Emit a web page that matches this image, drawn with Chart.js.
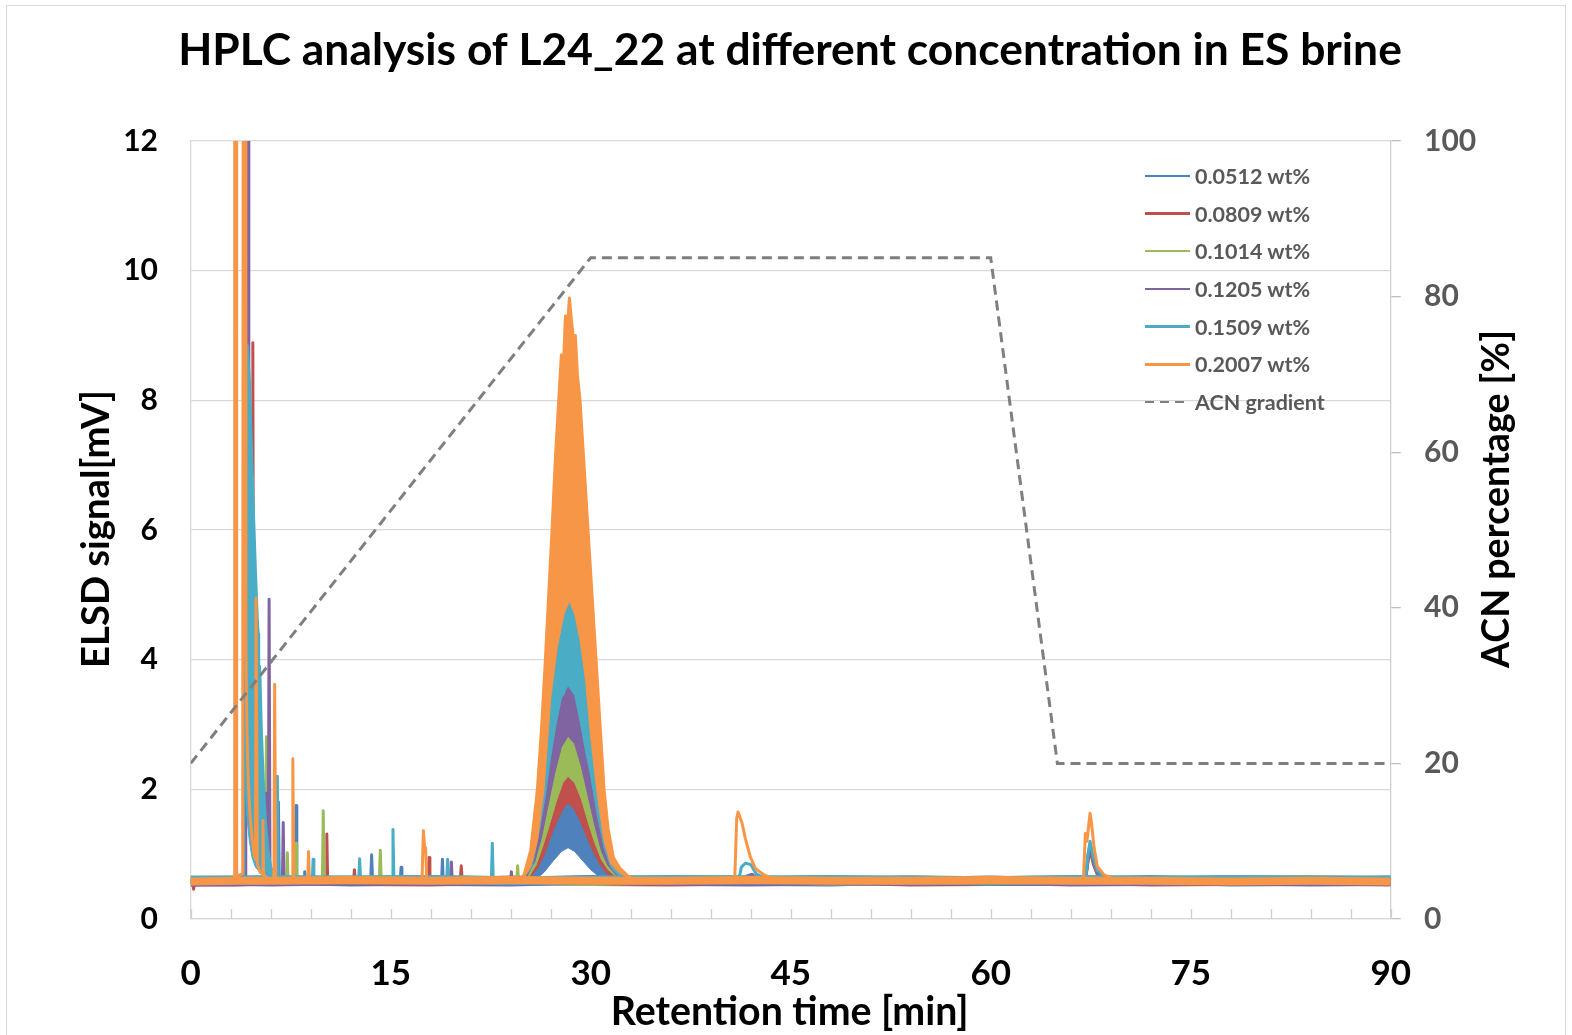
<!DOCTYPE html>
<html lang="en">
<head>
<meta charset="UTF-8">
<title>HPLC analysis of L24_22</title>
<script src="https://cdn.jsdelivr.net/npm/chart.js"></script>
<style>
    * { margin: 0; padding: 0; box-sizing: border-box; }
    body { width: 1572px; height: 1035px; overflow: hidden; background: #fff; font-family: Lato, sans-serif; position: relative; }
    .frame { position: absolute; left: 6px; top: 5px; width: 1560px; height: 1100px; border: 1.5px solid #d9d9d9; }
    .wrap { position: absolute; left: 0; top: 0; width: 1572px; height: 1035px; }
    .legend { position: absolute; left: 1145px; top: 157px; }
    .legend-row { display: flex; align-items: center; height: 37.7px; }
    .legend-line { width: 45px; height: 2.5px; margin-right: 5px; }
    .legend-text { font-weight: 700; font-size: 21.5px; color: #595959; white-space: nowrap; }
</style>
</head>
<body>
<div class="frame"></div>
<div class="wrap"><canvas id="hplc"></canvas></div>
<div class="legend" id="legend"></div>

<script>
// ---- data ----
const chartTitle = 'HPLC analysis of L24_22 at different concentration in ES brine';
const xTitle = 'Retention time [min]';
const yTitle = 'ELSD signal[mV]';
const y2Title = 'ACN percentage [%]';

const seriesNames = ['0.0512 wt%', '0.0809 wt%', '0.1014 wt%', '0.1205 wt%', '0.1509 wt%', '0.2007 wt%'];
const seriesColors = ['#4F81BD', '#C0504D', '#9BBB59', '#8064A2', '#4BACC6', '#F79646'];
const gradientName = 'ACN gradient';

const xLabelEvery = 15;   // labelled ticks, minor marks every 3 min
const xTickStep = 3;
const yTickStep = 2;
const y2TickStep = 20;

// ACN gradient (min, %)
const acnTime = [0, 30, 60, 65, 90];
const acnPercent = [20, 85, 85, 20, 20];

// noise band level of each trace (mV)
const baseTimes  = [0, 3.3, 6, 12, 18, 24, 30, 36, 42, 48, 54, 60, 66, 72, 78, 84, 90];
const blueBase   = [0.58, 0.59, 0.6, 0.57, 0.59, 0.58, 0.61, 0.59, 0.58, 0.57, 0.6, 0.58, 0.58, 0.61, 0.57, 0.58, 0.6];
const redBase    = [0.57, 0.57, 0.59, 0.58, 0.57, 0.6, 0.58, 0.57, 0.59, 0.6, 0.57, 0.58, 0.6, 0.57, 0.58, 0.59, 0.57];
const greenBase  = [0.59, 0.6, 0.58, 0.6, 0.61, 0.59, 0.58, 0.6, 0.61, 0.58, 0.6, 0.59, 0.61, 0.58, 0.6, 0.61, 0.59];
const purpleBase = [0.57, 0.58, 0.57, 0.59, 0.58, 0.57, 0.6, 0.58, 0.57, 0.59, 0.58, 0.6, 0.57, 0.58, 0.59, 0.57, 0.58];
const cyanBase   = [0.6, 0.6, 0.61, 0.6, 0.61, 0.59, 0.6, 0.61, 0.6, 0.61, 0.6, 0.59, 0.61, 0.6, 0.61, 0.6, 0.6];
const orangeBase = [0.58, 0.59, 0.59, 0.6, 0.59, 0.6, 0.59, 0.59, 0.6, 0.59, 0.59, 0.6, 0.59, 0.59, 0.58, 0.59, 0.58];

// traces: [time, mV]
const blueTrace = [[0,0.58],[2,0.57],[3.98,0.6],[4.02,25],[4.12,25],[4.2,5.0],[4.35,3.4],[4.5,2.5],[4.7,1.8],[5.0,1.2],[5.4,0.85],[5.8,0.7],[6.52,0.65],[6.58,1.81],[6.64,0.64],[7.84,0.6],[7.9,1.75],[7.96,0.6],[8.5,0.6],[8.55,0.73],[8.6,0.6],[13.5,0.6],[13.57,0.99],[13.64,0.6],[15.72,0.6],[15.78,0.8],[15.84,0.6],[18.82,0.6],[18.88,0.92],[18.94,0.6],[25.3,0.58],
    [32.1,0.58],[45,0.58],[67.1,0.58],[67.3,0.9],[67.45,1.15],[67.7,0.85],[68,0.68],[68.7,0.58],[80,0.57],[90,0.58]];
const redTrace = [[0,0.57],[0.15,0.56],[0.22,0.46],[0.3,0.57],[2,0.58],[3.98,0.6],[4.02,25],[4.12,25],[4.2,5.0],[4.35,3.4],[4.5,2.6],[4.6,2.3],[4.66,8.89],[4.72,2.1],[4.9,1.5],[5.2,1.0],[5.6,0.75],[6.0,0.65],[10.15,0.6],[10.21,1.31],[10.27,0.6],[12.22,0.6],[12.28,0.76],[12.34,0.6],[17.82,0.6],[17.88,0.95],[17.94,0.6],[20.22,0.6],[20.29,0.82],[20.36,0.6],[25.2,0.59],
    [32.9,0.59],[45,0.58],[67.1,0.58],[67.3,0.9],[67.45,1.05],[67.7,0.85],[68,0.7],[68.7,0.58],[80,0.57],[90,0.57]];
const greenTrace = [[0,0.58],[2,0.6],[3.98,0.6],[4.02,25],[4.12,25],[4.2,5.0],[4.35,3.4],[4.5,2.6],[4.6,2.3],[4.64,6.8],[4.7,2.1],[4.9,1.5],[5.2,1.0],[5.5,0.8],[5.62,0.75],[5.68,2.81],[5.75,0.7],[7.2,0.6],[7.25,1.02],[7.3,0.6],[7.86,0.6],[7.9,1.17],[7.95,0.6],[9.88,0.6],[9.94,1.67],[10.0,0.6],[14.15,0.6],[14.22,1.06],[14.29,0.6],[24.45,0.6],[24.52,0.82],[24.59,0.6],[25.1,0.6],
    [32.9,0.6],[40,0.59],[50,0.6],[67.1,0.6],[67.3,1.0],[67.45,1.15],[67.7,0.9],[68,0.72],[68.7,0.6],[80,0.59],[90,0.58]];
const purpleTrace = [[0,0.57],[2.5,0.58],[4.08,0.6],[4.13,25],[4.3,25],[4.36,3.0],[4.5,2.0],[4.7,1.4],[5.0,1.0],[5.3,0.8],[5.58,0.75],[5.63,1.94],[5.68,0.7],[5.82,0.66],[5.88,4.93],[5.95,0.66],[6.88,0.62],[6.94,1.49],[7.0,0.6],[12,0.58],[19.48,0.58],[19.55,0.88],[19.62,0.58],[24.0,0.58],[24.05,0.73],[24.1,0.58],[24.9,0.58],
    [33.1,0.58],[38,0.57],[41.3,0.58],[41.7,0.66],[42.1,0.69],[42.5,0.62],[43,0.57],[55,0.58],[67.1,0.58],[67.3,0.95],[67.45,1.1],[67.7,0.9],[68.0,0.72],[68.7,0.6],[80,0.57],[90,0.57]];
const cyanTrace = [[0,0.6],[2,0.59],[3.95,0.62],[3.97,25],[3.99,25],[5.06,4.4],[5.1,3.9],[5.16,3.9],[6.45,0.63],[6.5,2.2],[6.56,0.63],[9.12,0.6],[9.18,0.92],[9.24,0.6],[12.6,0.6],[12.67,0.93],[12.74,0.6],[15.1,0.6],[15.17,1.38],[15.24,0.6],[19.2,0.6],[19.27,0.92],[19.34,0.6],[22.55,0.6],[22.62,1.17],[22.69,0.6],[24.7,0.6],
    [33.1,0.6],[37,0.6],[41.1,0.6],[41.3,0.8],[41.6,0.86],[42.0,0.84],[42.4,0.7],[43.2,0.6],[52,0.61],[60,0.6],[67.1,0.6],[67.3,1.0],[67.45,1.2],[67.7,0.95],[68.0,0.75],[68.7,0.62],[80,0.6],[90,0.6]];
const orangeTrace = [[0,0.58],[1.5,0.6],[3.25,0.6],[3.3,25],[3.4,25],[3.45,0.66],[3.9,0.7],[3.97,25],[4.08,25],[4.14,4.2],[4.22,2.9],[4.32,2.1],[4.45,1.6],[4.6,1.25],[4.75,1.0],[4.86,0.92],[4.9,4.95],[4.96,4.95],[5.0,0.85],[5.2,0.72],[5.38,0.7],[5.42,1.52],[5.47,0.68],[5.8,0.62],[6.24,0.62],[6.3,3.62],[6.37,0.62],[7.6,0.6],[7.66,2.47],[7.73,0.6],[8.78,0.6],[8.84,1.04],[8.9,0.6],[12,0.59],[17.35,0.6],[17.45,1.36],[17.55,1.1],[17.62,1.1],[17.7,0.6],[21,0.58],[24.5,0.6],
    [33.5,0.6],[36,0.59],[40.8,0.6],[40.95,1.55],[41.05,1.65],[41.35,1.48],[41.6,1.24],[41.97,0.96],[42.35,0.78],[43.0,0.68],[43.7,0.62],[50,0.59],[58,0.6],[66.95,0.6],[67.1,1.32],[67.22,1.2],[67.45,1.63],[67.55,1.5],[67.75,1.11],[68.0,0.81],[68.5,0.68],[69.5,0.6],[78,0.58],[90,0.58]];

// solvent-front tail of the 0.1509 trace: upper and lower edge of the oscillation
const cyanFront = [[4.0,8.84],[4.25,8.84],[4.4,8.3],[4.55,7.3],[4.7,6.3],[4.85,5.4],[5.0,4.6],[5.2,3.7],[5.3,2.9],[5.45,2.1],[5.6,1.5],[5.8,1.05],[6.0,0.8],[6.3,0.68]];
const cyanFrontLow = [[4.0,2.5],[4.2,1.6],[4.4,1.2],[4.6,0.95],[4.85,0.8],[5.2,0.72],[5.6,0.66],[6.3,0.63]];

// main peak (~28 min): upper and lower edge of the oscillating signal
const bluePeak = [[25.4,0.6],[26.0,0.8],[26.5,1.0],[27.0,1.3],[27.5,1.55],[28.0,1.75],[28.3,1.81],[28.7,1.75],[29.2,1.55],[29.7,1.3],[30.2,1.05],[30.7,0.85],[31.3,0.7],[32.0,0.6]];
const bluePeakLow = [[25.4,0.6],[25.8,0.6],[26.5,0.72],[27.2,0.9],[27.8,1.04],[28.3,1.1],[28.8,1.04],[29.4,0.9],[30.0,0.76],[30.6,0.66],[31.2,0.6],[32.0,0.6]];
const redPeak = [[25.3,0.6],[25.9,0.85],[26.4,1.15],[26.9,1.5],[27.4,1.85],[27.9,2.15],[28.3,2.24],[28.8,2.15],[29.3,1.9],[29.8,1.55],[30.3,1.2],[30.8,0.95],[31.3,0.78],[32.0,0.65],[32.8,0.6]];
const redPeakLow = [[25.3,0.6],[26.0,0.78],[26.5,0.98],[27.0,1.27],[27.5,1.52],[28.0,1.72],[28.3,1.78],[28.7,1.72],[29.2,1.52],[29.7,1.27],[30.2,1.03],[30.7,0.84],[31.3,0.68],[32.0,0.62],[32.8,0.6]];
const greenPeak = [[25.2,0.6],[25.8,0.9],[26.3,1.3],[26.8,1.8],[27.3,2.3],[27.8,2.7],[28.3,2.87],[28.8,2.75],[29.3,2.4],[29.8,1.95],[30.3,1.5],[30.8,1.1],[31.3,0.85],[32.0,0.68],[32.8,0.6]];
const greenPeakLow = [[25.2,0.6],[25.9,0.83],[26.4,1.12],[26.9,1.45],[27.4,1.8],[27.9,2.1],[28.3,2.2],[28.8,2.1],[29.3,1.85],[29.8,1.5],[30.3,1.18],[30.8,0.92],[31.3,0.76],[32.0,0.64],[32.8,0.6]];
const purplePeak = [[25.0,0.6],[25.6,0.85],[26.1,1.4],[26.6,2.0],[27.0,2.6],[27.4,3.1],[27.8,3.45],[28.05,3.4],[28.3,3.64],[28.55,3.5],[28.8,3.5],[29.2,3.1],[29.6,2.7],[30.0,2.3],[30.3,2.0],[30.8,1.4],[31.3,1.0],[31.8,0.8],[32.5,0.65],[33.0,0.6]];
const purplePeakLow = [[25.0,0.6],[25.8,0.88],[26.3,1.25],[26.8,1.75],[27.3,2.25],[27.8,2.65],[28.3,2.82],[28.8,2.7],[29.3,2.35],[29.8,1.9],[30.3,1.45],[30.8,1.05],[31.3,0.82],[32.0,0.66],[33.0,0.6]];
const cyanPeak = [[24.8,0.6],[25.3,0.75],[25.8,1.3],[26.3,2.0],[26.7,2.9],[27.1,4.0],[27.5,4.5],[27.9,4.95],[28.1,4.8],[28.3,5.11],[28.5,4.95],[28.7,4.9],[29.1,4.5],[29.5,4.0],[30.0,3.0],[30.5,2.0],[31.0,1.3],[31.5,0.9],[32.2,0.7],[33.0,0.6]];
const cyanPeakLow = [[24.8,0.6],[25.6,0.8],[26.1,1.3],[26.6,1.9],[27.0,2.5],[27.4,3.0],[27.8,3.4],[28.3,3.6],[28.8,3.45],[29.2,3.05],[29.6,2.6],[30.0,2.2],[30.5,1.6],[31.0,1.1],[31.5,0.8],[32.2,0.64],[33.0,0.6]];
const orangePeak = [[24.6,0.6],[25.0,0.68],[25.5,1.06],[26.0,2.0],[26.3,2.9],[26.6,4.0],[26.85,5.0],[27.1,6.0],[27.35,7.1],[27.6,8.0],[27.8,8.7],[27.95,8.5],[28.1,9.3],[28.25,9.1],[28.4,9.58],[28.55,9.25],[28.7,8.95],[28.85,9.0],[29.0,8.4],[29.2,8.0],[29.5,7.0],[29.8,6.0],[30.1,5.0],[30.4,4.0],[30.7,3.0],[31.0,2.0],[31.3,1.4],[31.7,0.95],[32.2,0.78],[32.8,0.66],[33.4,0.6]];
const orangePeakLow = [[24.6,0.6],[25.0,0.64],[25.5,0.8],[26.0,1.2],[26.5,2.0],[27.0,3.4],[27.5,4.2],[28.0,4.7],[28.4,4.9],[28.8,4.7],[29.2,4.3],[29.6,3.7],[30.0,2.8],[30.5,1.9],[31.0,1.2],[31.5,0.85],[32.2,0.7],[33.0,0.62],[33.4,0.6]];

// ---- helpers ----
const toXY = pts => pts.map(p => ({ x: p[0], y: p[1] }));
const merged = (...lists) => toXY([].concat(...lists).sort((a, b) => a[0] - b[0]));
const band = (upper, lower) => toXY(upper.concat(lower.slice().reverse()));
const levels = vals => baseTimes.map((t, i) => ({ x: t, y: vals[i] }));

const measureCtx = document.createElement('canvas').getContext('2d');
function fitSize(text, width) {
    measureCtx.font = 'bold 100px Lato';
    return 100 * width / measureCtx.measureText(text).width;
}

// drawn top-most first: orange ... blue
const groups = [
    { i: 5, trace: merged(orangeTrace, orangePeak), bands: [band(orangePeak, orangePeakLow)], base: orangeBase, baseWidth: 8 },
    { i: 4, trace: merged(cyanTrace, cyanFront, cyanPeak), bands: [band(cyanFront, cyanFrontLow), band(cyanPeak, cyanPeakLow)], base: cyanBase, baseWidth: 9 },
    { i: 3, trace: merged(purpleTrace, purplePeak), bands: [band(purplePeak, purplePeakLow)], base: purpleBase, baseWidth: 9 },
    { i: 2, trace: merged(greenTrace, greenPeak), bands: [band(greenPeak, greenPeakLow)], base: greenBase, baseWidth: 9 },
    { i: 1, trace: merged(redTrace, redPeak), bands: [band(redPeak, redPeakLow)], base: redBase, baseWidth: 9 },
    { i: 0, trace: merged(blueTrace, bluePeak), bands: [band(bluePeak, bluePeakLow)], base: blueBase, baseWidth: 9 }
];

const datasets = [{
    label: gradientName,
    data: toXY(acnTime.map((t, k) => [t, acnPercent[k]])),
    yAxisID: 'y1',
    borderColor: '#7F7F7F',
    borderWidth: 3,
    borderDash: [10, 6],
    pointRadius: 0,
    fill: false
}];

groups.forEach(g => {
    const color = seriesColors[g.i];
    datasets.push({
        label: seriesNames[g.i], data: g.trace, yAxisID: 'y',
        borderColor: color, borderWidth: 3, borderJoinStyle: 'round', pointRadius: 0, fill: false
    });
    g.bands.forEach(b => datasets.push({
        label: seriesNames[g.i] + ' band', data: b, yAxisID: 'y',
        borderColor: color, backgroundColor: color, borderWidth: 1, pointRadius: 0, fill: 'shape'
    }));
    datasets.push({
        label: seriesNames[g.i] + ' noise', data: levels(g.base), yAxisID: 'y',
        borderColor: color, borderWidth: g.baseWidth, pointRadius: 0, fill: false
    });
});

// inward minor tick marks on the time axis + axis titles
const decorations = {
    id: 'decorations',
    afterDraw(chart) {
        const ctx = chart.ctx;
        const area = chart.chartArea;
        const xs = chart.scales.x;
        ctx.save();
        ctx.strokeStyle = '#cfcfcf';
        ctx.lineWidth = 1.3;
        ctx.beginPath();
        xs.ticks.forEach(tk => {
            const px = Math.round(xs.getPixelForValue(tk.value)) + 0.5;
            ctx.moveTo(px, area.bottom);
            ctx.lineTo(px, area.bottom - 10);
        });
        ctx.stroke();

        ctx.fillStyle = '#000';
        ctx.textAlign = 'center';
        ctx.textBaseline = 'middle';
        ctx.font = 'bold ' + fitSize(xTitle, 358) + 'px Lato';
        ctx.fillText(xTitle, (area.left + area.right) / 2 - 1, area.bottom + 93);

        ctx.save();
        ctx.translate(area.left - 94, 529);
        ctx.rotate(-Math.PI / 2);
        ctx.font = 'bold ' + fitSize(yTitle, 278) + 'px Lato';
        ctx.fillText(yTitle, 0, 0);
        ctx.restore();

        ctx.save();
        ctx.translate(area.right + 106, 499);
        ctx.rotate(-Math.PI / 2);
        ctx.font = 'bold ' + fitSize(y2Title, 338) + 'px Lato';
        ctx.fillText(y2Title, 0, 0);
        ctx.restore();
        ctx.restore();
    }
};

const titleSize = fitSize(chartTitle, 1224);

Chart.defaults.font.family = 'Lato';

new Chart(document.getElementById('hplc'), {
    type: 'line',
    data: { datasets: datasets },
    options: {
        responsive: true,
        maintainAspectRatio: false,
        devicePixelRatio: 1,
        animation: false,
        events: [],
        layout: { padding: { left: 8, right: 0, top: 0, bottom: 0 } },
        plugins: {
            legend: { display: false },
            tooltip: { enabled: false },
            title: {
                display: true,
                text: chartTitle,
                color: '#000',
                font: { size: titleSize, weight: 'bold' },
                padding: { top: 51 - 0.6 * titleSize, bottom: 90 - 0.6 * titleSize }
            }
        },
        scales: {
            x: {
                type: 'linear',
                min: 0, max: 90,
                afterFit: s => { s.height = 116; },
                ticks: {
                    stepSize: xTickStep,
                    autoSkip: false,
                    maxRotation: 0,
                    padding: 34,
                    color: '#000',
                    font: { size: 35, weight: 'bold' },
                    callback: v => (v % xLabelEvery === 0 ? String(v) : '')
                },
                grid: { drawOnChartArea: false, drawTicks: false },
                border: { color: '#d9d9d9', width: 1.3 }
            },
            y: {
                position: 'left',
                min: 0, max: 12,
                afterFit: s => { s.width = 182.7; },
                ticks: { stepSize: yTickStep, padding: 32.7, color: '#000', font: { size: 30, weight: 'bold' } },
                grid: { color: '#d9d9d9', lineWidth: 1.3, drawTicks: false },
                border: { color: '#d9d9d9', width: 1.3 }
            },
            y1: {
                position: 'right',
                min: 0, max: 100,
                afterFit: s => { s.width = 181.3; },
                ticks: { stepSize: y2TickStep, padding: 23.3, color: '#595959', font: { size: 30, weight: 'bold' } },
                grid: { drawOnChartArea: false, drawTicks: true, tickLength: 10, color: '#bfbfbf', lineWidth: 1.3 },
                border: { color: '#d0d0d0', width: 1.3 }
            }
        }
    },
    plugins: [decorations]
});

// legend (top-right, inside the plot)
const legend = document.getElementById('legend');
seriesNames.concat([gradientName]).forEach((name, k) => {
    const row = document.createElement('div');
    row.className = 'legend-row';
    const line = document.createElement('span');
    line.className = 'legend-line';
    line.style.background = k < seriesNames.length
        ? seriesColors[k]
        : 'repeating-linear-gradient(90deg, #7F7F7F 0 9px, transparent 9px 15px)';
    const text = document.createElement('span');
    text.className = 'legend-text';
    text.textContent = name;
    row.appendChild(line);
    row.appendChild(text);
    legend.appendChild(row);
});
</script>
</body>
</html>
